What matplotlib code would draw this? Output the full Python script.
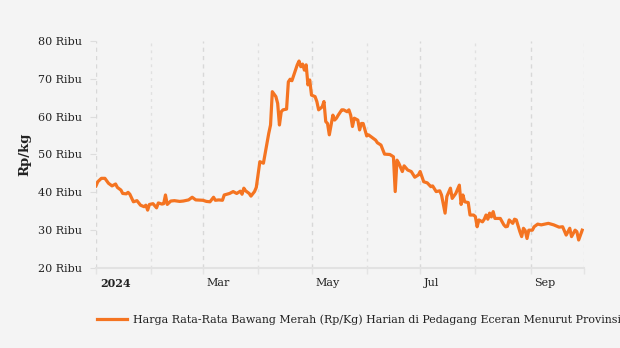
import matplotlib
matplotlib.use("Agg")
import matplotlib.pyplot as plt
import matplotlib.dates as mdates
import matplotlib.transforms as mtransforms
import pandas as pd

dates = [
    "2024-01-01", "2024-01-02", "2024-01-04", "2024-01-06", "2024-01-08", "2024-01-10",
    "2024-01-12", "2024-01-13", "2024-01-15", "2024-01-16", "2024-01-18", "2024-01-19",
    "2024-01-20", "2024-01-22", "2024-01-24", "2024-01-26", "2024-01-28", "2024-01-29",
    "2024-01-30", "2024-01-31", "2024-02-02", "2024-02-04", "2024-02-05", "2024-02-07",
    "2024-02-08", "2024-02-09", "2024-02-10", "2024-02-12", "2024-02-14", "2024-02-17",
    "2024-02-19", "2024-02-22", "2024-02-24", "2024-02-26", "2024-03-01", "2024-03-03",
    "2024-03-05", "2024-03-07", "2024-03-08", "2024-03-10", "2024-03-12", "2024-03-13",
    "2024-03-16", "2024-03-18", "2024-03-20", "2024-03-22", "2024-03-23", "2024-03-24",
    "2024-03-25", "2024-03-27", "2024-03-28", "2024-03-30", "2024-03-31", "2024-04-02",
    "2024-04-04", "2024-04-05", "2024-04-07", "2024-04-08", "2024-04-09", "2024-04-11",
    "2024-04-12", "2024-04-13", "2024-04-14", "2024-04-15", "2024-04-17", "2024-04-18",
    "2024-04-19", "2024-04-20", "2024-04-22", "2024-04-23", "2024-04-24", "2024-04-25",
    "2024-04-26", "2024-04-27", "2024-04-28", "2024-04-29", "2024-04-30", "2024-05-01",
    "2024-05-03", "2024-05-04", "2024-05-05", "2024-05-07", "2024-05-08", "2024-05-09",
    "2024-05-10", "2024-05-11", "2024-05-13", "2024-05-14", "2024-05-15", "2024-05-16",
    "2024-05-18", "2024-05-19", "2024-05-21", "2024-05-22", "2024-05-23", "2024-05-24",
    "2024-05-25", "2024-05-27", "2024-05-28", "2024-05-29", "2024-05-30", "2024-06-01",
    "2024-06-02", "2024-06-04", "2024-06-06", "2024-06-07", "2024-06-09", "2024-06-11",
    "2024-06-14", "2024-06-16", "2024-06-17", "2024-06-18", "2024-06-19", "2024-06-21",
    "2024-06-22", "2024-06-24", "2024-06-26", "2024-06-28", "2024-06-30", "2024-07-01",
    "2024-07-03", "2024-07-05", "2024-07-07", "2024-07-08", "2024-07-10", "2024-07-12",
    "2024-07-13", "2024-07-15", "2024-07-16", "2024-07-18", "2024-07-19", "2024-07-21",
    "2024-07-23", "2024-07-24", "2024-07-25", "2024-07-26", "2024-07-28", "2024-07-29",
    "2024-07-31", "2024-08-01", "2024-08-02", "2024-08-03", "2024-08-05", "2024-08-06",
    "2024-08-07", "2024-08-08", "2024-08-09", "2024-08-10", "2024-08-11", "2024-08-12",
    "2024-08-14", "2024-08-15", "2024-08-17", "2024-08-18", "2024-08-19", "2024-08-20",
    "2024-08-22", "2024-08-23", "2024-08-24", "2024-08-26", "2024-08-27", "2024-08-28",
    "2024-08-29", "2024-08-30", "2024-08-31", "2024-09-02", "2024-09-03", "2024-09-05",
    "2024-09-07", "2024-09-09", "2024-09-11", "2024-09-14", "2024-09-17", "2024-09-19",
    "2024-09-21", "2024-09-23", "2024-09-24", "2024-09-26", "2024-09-27", "2024-09-28",
    "2024-09-30",
]

prices = [
    41.7, 42.8, 43.7, 43.7, 42.4, 41.7,
    42.2, 41.3, 40.6, 39.7, 39.6, 40.0,
    39.5, 37.5, 37.8, 36.6, 36.2, 36.6,
    35.3, 36.8, 37.0, 35.9, 37.2, 36.9,
    37.0, 39.3, 36.8, 37.7, 37.8, 37.6,
    37.7, 38.0, 38.7, 38.0, 37.9, 37.6,
    37.5, 38.7, 37.9, 38.0, 37.9, 39.3,
    39.7, 40.2, 39.7, 40.3, 39.5, 41.1,
    40.4, 39.7, 39.0, 40.2, 41.3, 48.1,
    47.7, 50.3, 55.6, 57.8, 66.6, 65.3,
    63.5, 57.8, 61.3, 61.8, 62.0, 69.2,
    69.9, 69.5, 72.3, 73.7, 74.7, 73.2,
    73.9, 72.3, 73.7, 68.4, 69.7, 65.7,
    65.3, 64.0, 61.8, 62.6, 64.0, 58.7,
    58.2, 55.2, 60.4, 59.1, 59.6, 60.4,
    61.8, 61.8, 61.3, 61.8, 60.4, 57.4,
    59.6, 59.1, 56.5, 58.2, 58.2, 54.9,
    55.2, 54.5, 53.8, 53.1, 52.5, 50.1,
    50.0, 49.4, 40.2, 48.5, 47.7, 45.5,
    47.0, 45.9, 45.5, 44.0, 44.6, 45.5,
    42.8, 42.5, 41.5, 41.7, 40.2, 40.4,
    39.3, 34.5, 38.9, 41.1, 38.4, 39.7,
    41.9, 36.8, 39.3, 37.5, 37.3, 34.0,
    34.0, 33.6, 30.9, 32.7, 32.2, 32.9,
    34.0, 32.9, 34.5, 33.5, 34.9, 33.1,
    33.1, 33.1, 31.4, 30.9, 31.0, 32.7,
    31.8, 32.9, 32.7, 29.6, 28.3, 30.5,
    29.9, 27.8, 30.0, 30.0, 30.9, 31.6,
    31.4, 31.6, 31.8, 31.4, 30.8, 30.9,
    28.7, 30.5, 28.3, 30.0, 29.6, 27.4,
    30.0,
]

y_ticks = [20, 30, 40, 50, 60, 70, 80]
y_tick_labels = ["20 Ribu", "30 Ribu", "40 Ribu", "50 Ribu", "60 Ribu", "70 Ribu", "80 Ribu"]
x_tick_dates = ["2024-01-01", "2024-03-01", "2024-05-01", "2024-07-01", "2024-09-01"]
x_tick_labels = ["2024", "Mar", "May", "Jul", "Sep"]
series_label = "Harga Rata-Rata Bawang Merah (Rp/Kg) Harian di Pedagang Eceran Menurut Provinsi"

bg = "#f4f4f4"
line_color = "#f47421"
text_color = "#222222"

plt.rcParams["font.family"] = ["DejaVu Serif"]

fig = plt.figure(figsize=(6.2, 3.48), dpi=100, facecolor=bg)
ax = fig.add_axes([96 / 620, 1 - 268 / 348, (584 - 96) / 620, (268 - 41) / 348])
ax.set_facecolor(bg)

x = pd.to_datetime(dates)
ax.plot(x, prices, color=line_color, lw=2.3, solid_joinstyle="round", label=series_label, zorder=3)

ax.set_xlim(pd.Timestamp("2024-01-01"), pd.Timestamp("2024-10-01"))
ax.set_ylim(20, 80)

ax.set_yticks(y_ticks)
ax.set_yticklabels(y_tick_labels, fontsize=8, color=text_color)
ax.tick_params(axis="y", length=4, width=0.8, color="#dddddd", pad=6)

ax.xaxis.set_minor_locator(mdates.MonthLocator())
ax.tick_params(axis="x", which="both", length=4, width=1, color="#e4e4e4", pad=3)
ax.set_xticks(pd.to_datetime(x_tick_dates))
ax.set_xticklabels(x_tick_labels, fontsize=8, color=text_color, ha="left")
ax.get_xticklabels()[0].set_fontweight("bold")
offset = mtransforms.ScaledTranslation(4 / 100, 0, fig.dpi_scale_trans)
for lbl in ax.get_xticklabels():
    lbl.set_transform(lbl.get_transform() + offset)

ax.grid(axis="x", which="major", color="#d8d8d8", linestyle=(0, (3, 3)), lw=1)
ax.grid(axis="x", which="minor", color="#e0e0e0", linestyle=(0, (2, 3)), lw=1)
ax.grid(axis="y", visible=False)

for s in ["top", "right", "left"]:
    ax.spines[s].set_visible(False)
ax.spines["bottom"].set_color("#e2e2e2")
ax.spines["bottom"].set_linewidth(1.5)

ax.set_ylabel("Rp/kg", fontsize=9.5, fontweight="bold", color=text_color, labelpad=5)

ax.legend(loc="upper left", bbox_to_anchor=(1 / 488, -0.205), frameon=False, fontsize=7.95,
          handlelength=2.7, handletextpad=0.55, borderpad=0, borderaxespad=0,
          labelcolor=text_color)

fig.savefig("out.png", dpi=100, facecolor=bg)
